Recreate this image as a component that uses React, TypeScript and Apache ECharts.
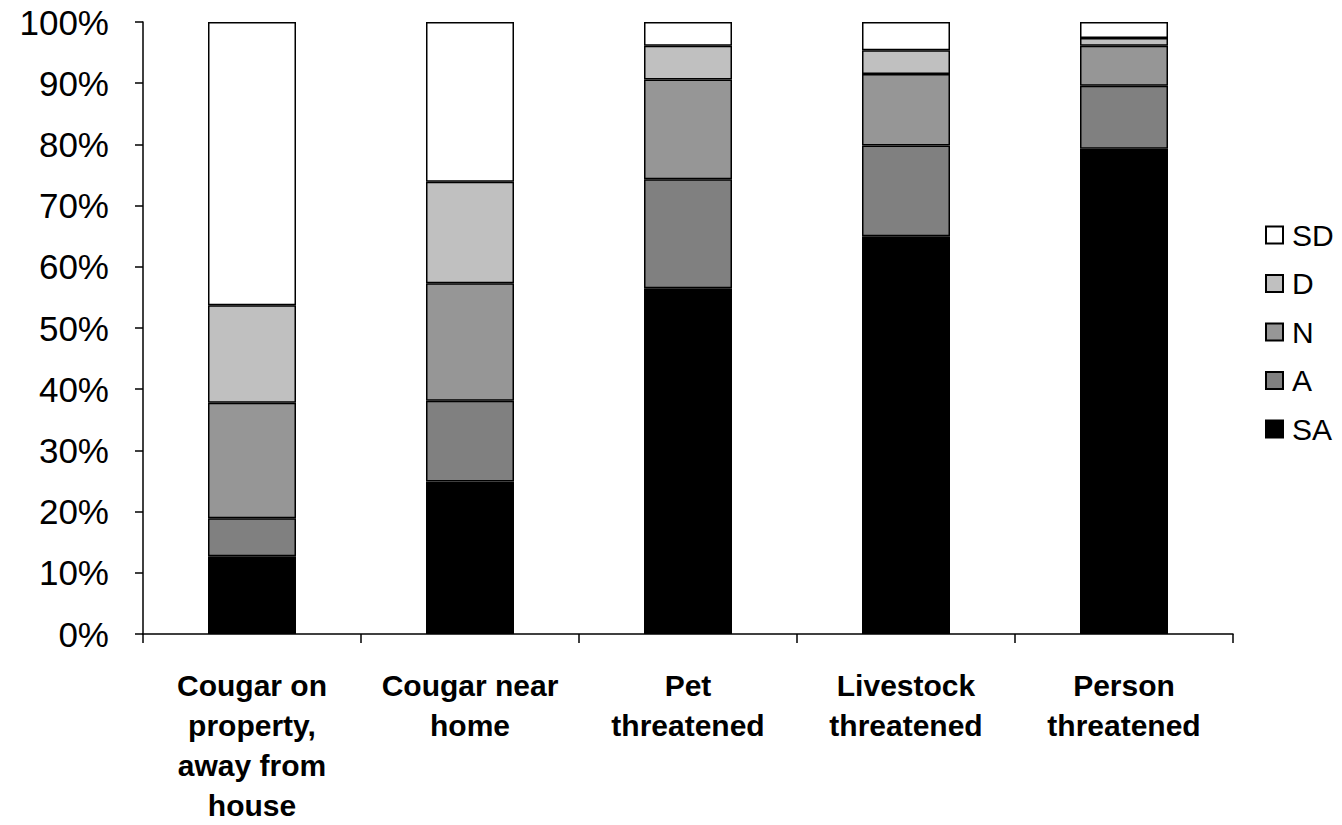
import React, { useEffect, useRef } from "react";
import * as echarts from "echarts";

const categories = [
  "Cougar on\nproperty,\naway from\nhouse",
  "Cougar near\nhome",
  "Pet\nthreatened",
  "Livestock\nthreatened",
  "Person\nthreatened",
];
const yTicks = [0, 10, 20, 30, 40, 50, 60, 70, 80, 90, 100];
const SA = [12.7, 24.9, 56.5, 65.0, 79.3];
const A = [6.2, 13.2, 17.8, 14.8, 10.3];
const N = [18.9, 19.2, 16.3, 11.7, 6.5];
const D = [15.9, 16.6, 5.5, 3.9, 1.3];
const SD = [46.3, 26.1, 3.9, 4.6, 2.6];

const seriesDefs = [
  { name: "SA", data: SA, color: "#000000" },
  { name: "A", data: A, color: "#808080" },
  { name: "N", data: N, color: "#969696" },
  { name: "D", data: D, color: "#c0c0c0" },
  { name: "SD", data: SD, color: "#ffffff" },
];

const FONT = "Liberation Sans, Arial, sans-serif";

export default function App() {
  const ref = useRef<HTMLDivElement>(null);
  useEffect(() => {
    if (!ref.current) return;
    const chart = echarts.init(ref.current, null, { renderer: "svg" });
    chart.setOption({
      animation: false,
      textStyle: { fontFamily: FONT },
      grid: { left: 143, right: 109, top: 22, bottom: 189 },
      legend: {
        orient: "vertical",
        left: 1260,
        top: 215,
        itemWidth: 17,
        itemHeight: 17,
        itemGap: 18.5,
        data: ["SD", "D", "N", "A", "SA"],
        textStyle: { fontSize: 30, lineHeight: 29, color: "#000", fontFamily: FONT, padding: [0, 0, 0, 4] },
        icon: "rect",
      },
      xAxis: {
        type: "category",
        data: categories,
        axisLine: { lineStyle: { color: "#000", width: 1.5 } },
        axisTick: { show: true, length: 9, lineStyle: { color: "#000", width: 1.5 } },
        axisLabel: {
          color: "#000",
          fontSize: 30,
          fontWeight: "bold",
          lineHeight: 40,
          margin: 31,
          interval: 0,
          fontFamily: FONT,
        },
      },
      yAxis: {
        type: "value",
        min: 0,
        max: 100,
        interval: 10,
        splitLine: { show: false },
        axisLine: { show: true, lineStyle: { color: "#000", width: 1.5 } },
        axisTick: { show: true, length: 8, lineStyle: { color: "#000", width: 1.5 } },
        axisLabel: {
          color: "#000",
          fontSize: 35,
          margin: 34,
          formatter: (v: number) => (yTicks.includes(v) ? v + "%" : ""),
          fontFamily: FONT,
        },
      },
      series: seriesDefs.map((s) => ({
        name: s.name,
        type: "bar",
        stack: "total",
        barWidth: 88,
        data: s.data,
        itemStyle: { color: s.color, borderColor: "#000", borderWidth: 1.5 },
      })),
    });
    return () => chart.dispose();
  }, []);
  return <div ref={ref} style={{ width: 1342, height: 825, position: "absolute", left: 0, top: 0 }} />;
}
